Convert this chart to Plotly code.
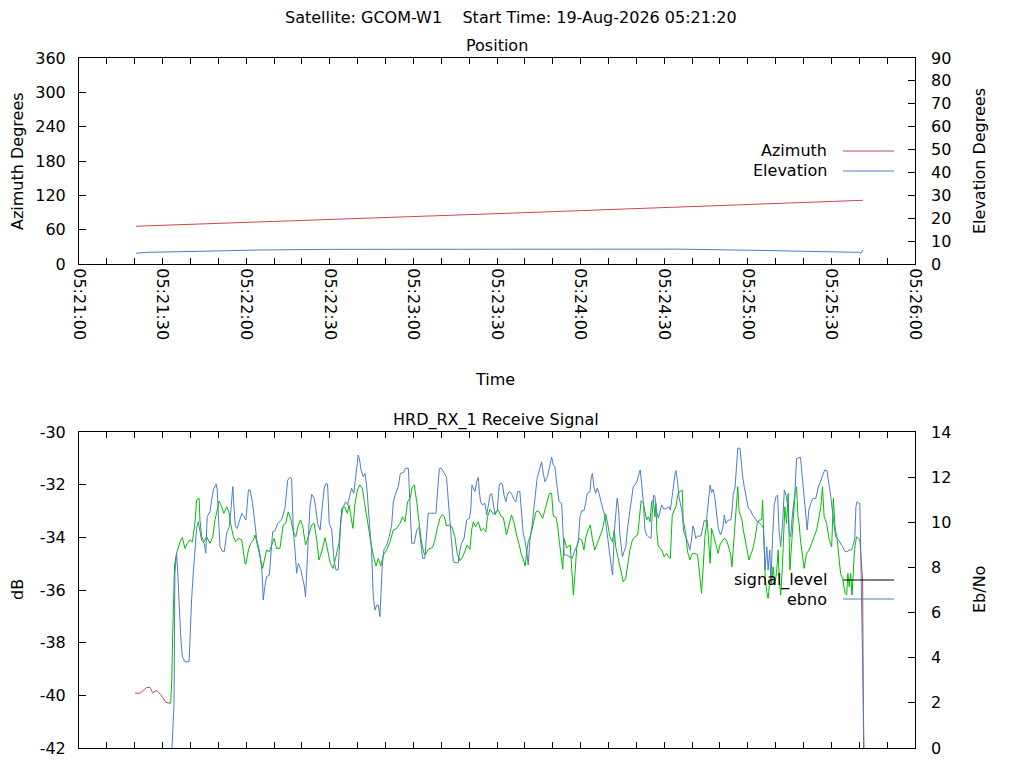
import pandas as pd
import plotly.graph_objects as go

BASE = pd.Timestamp("2026-08-19 05:21:00")

# ---------------- Position panel (seconds after 05:21:00) ----------------
az_t = [20.4, 40, 60, 80, 100, 120, 140, 160, 180, 200, 220, 240, 260, 280, 281.3]
azimuth = [66.0, 69.2, 72.4, 75.4, 78.8, 82.4, 86.0, 89.7, 93.3, 97.0, 100.6, 104.3, 107.9, 110.7, 111.3]

el_t = [20.4, 24.4, 43.4, 64.2, 90.0, 151.0, 214.6, 241.5, 261.6, 279.8, 280.6, 281.3]
elevation = [4.7, 5.1, 5.55, 6.1, 6.4, 6.55, 6.5, 6.0, 5.55, 5.1, 4.7, 6.2]

# ---------------- Receive signal panel ----------------
sig_pre_t = [20.1, 21.9, 24.3, 25.5, 26.4, 27.9, 29.3, 31.2, 32.9]
sig_pre = [-39.92, -39.92, -39.70, -39.70, -39.90, -39.82, -39.97, -40.27, -40.30]

sig_t = [32.9, 33.3, 33.6, 34.0, 34.3, 35.0, 35.6, 36.5, 37.1, 38.0, 38.9, 39.8, 40.7, 41.0, 41.6,
         42.2, 43.1, 43.4, 44.0, 44.9, 45.8, 47.0, 48.0, 48.8, 49.6, 50.3, 51.2, 52.0, 53.0, 53.8,
         54.4, 55.4, 56.3, 57.2, 58.4, 59.0, 59.6, 59.9, 60.8, 61.6, 62.6, 63.2, 64.0, 64.7, 65.9,
         66.6, 67.3, 68.3, 70.0, 70.9, 72.1, 73.3, 74.2, 75.1, 76.1, 76.9, 77.8, 78.7, 79.5, 80.3,
         81.3, 82.3, 83.5, 84.4, 85.3, 86.1, 87.1, 88.3, 89.2, 90.2, 91.2, 92.4, 93.3, 94.3, 95.4,
         96.3, 96.9, 97.8, 98.3, 99.0, 99.9, 100.8, 101.7, 102.4, 103.2, 104.2, 105.0, 106.0, 106.6,
         107.4, 108.3, 109.2, 110.4, 111.6, 112.8, 114.0, 115.2, 116.1, 117.0, 117.9, 118.8, 119.6,
         120.3, 121.2, 122.0, 122.7, 123.5, 124.0, 124.5, 125.3, 126.9, 127.7, 128.6, 129.5, 130.4,
         131.1, 131.9, 132.9, 133.8, 134.9, 135.7, 136.7, 137.7, 138.5, 139.3, 140.3, 140.9, 141.5,
         142.3, 143.3, 144.2, 145.1, 146.0, 146.6, 147.5, 148.7, 149.6, 150.5, 151.4, 152.2, 152.8,
         153.4, 154.3, 155.2, 156.2, 157.0, 158.0, 158.8, 159.7, 160.1, 160.6, 161.2, 162.1, 163.0,
         164.0, 164.8, 165.7, 166.4, 167.2, 168.1, 168.8, 169.6, 170.2, 171.2, 171.8, 172.3, 173.1,
         173.6, 174.1, 175.0, 175.8, 176.3, 176.8, 177.4, 178.0, 178.6, 179.4, 180.4, 181.2, 181.9,
         182.7, 183.5, 184.2, 185.1, 186.0, 186.9, 187.8, 188.5, 189.0, 189.7, 190.5, 191.4, 192.1,
         192.6, 193.3, 194.1, 194.7, 195.3, 196.2, 196.9, 197.7, 198.6, 199.5, 200.5, 201.0, 201.7,
         202.5, 203.1, 203.7, 204.3, 204.9, 205.5, 206.1, 206.7, 207.0, 207.4, 207.9, 209.1, 210.0,
         210.9, 211.5, 212.2, 212.4, 212.9, 213.6, 214.2, 215.0, 215.7, 216.5, 216.8, 217.7, 218.4,
         219.2, 220.1, 221.0, 222.0, 222.6, 223.1, 223.4, 224.0, 224.6, 225.4, 226.0, 226.5, 227.0,
         227.6, 228.2, 228.8, 229.4, 230.0, 231.0, 231.8, 232.6, 233.4, 233.9, 234.3, 234.8, 235.4,
         236.0, 236.4, 236.9, 237.8, 238.4, 239.0, 239.6, 240.4, 241.0, 241.7, 242.6, 243.4, 244.1,
         245.0, 245.3, 245.8, 246.3, 246.8, 247.3, 247.9, 248.5, 249.1, 249.7, 250.3, 250.9, 251.3,
         251.8, 252.4, 253.0, 253.3, 253.9, 254.5, 255.1, 255.7, 256.3, 257.0, 257.5, 258.0, 258.4,
         258.9, 259.6, 260.2, 261.1, 262.0, 262.9, 263.7, 264.7, 265.6, 266.2, 266.8, 267.4, 268.3,
         269.1, 270.1, 270.7, 271.3, 272.1, 272.8, 273.3, 274.0, 274.9, 275.5, 275.9, 276.4, 276.9,
         277.4, 277.8, 278.3, 279.0, 279.8, 280.2]
sig_level = [-40.30, -39.42, -37.77, -36.07, -35.05, -34.61, -34.42, -34.10, -34.01, -34.42, -34.23, -34.10, -34.17, -33.98, -33.47,
             -32.58, -32.52, -33.34, -33.98, -34.17, -33.98, -34.23, -33.98, -33.34, -32.96, -32.62, -32.84, -33.09, -32.84, -33.03,
             -33.47, -33.98, -34.17, -34.04, -34.10, -34.61, -35.01, -35.01, -34.48, -34.23, -34.10, -33.91, -34.23, -34.61, -35.18,
             -34.86, -34.48, -34.55, -34.04, -34.42, -34.42, -33.53, -33.47, -33.03, -33.34, -33.79, -33.98, -33.53, -33.34, -33.60,
             -34.29, -33.98, -33.53, -33.47, -34.10, -34.86, -34.55, -34.01, -34.42, -34.99, -35.18, -34.67, -34.23, -32.90, -32.84,
             -33.09, -32.77, -33.34, -33.66, -32.77, -32.20, -32.01, -32.14, -32.65, -33.22, -33.85, -34.36, -34.86, -35.09,
             -34.80, -35.09, -34.67, -34.48, -34.17, -33.72, -33.66, -33.47, -33.22, -33.41, -32.65, -32.52, -32.08,
             -32.01, -32.65, -33.34, -34.04, -34.48, -34.67, -34.61, -34.46, -34.38, -34.10, -33.66, -33.28, -33.13,
             -33.22, -33.57, -33.53, -33.60, -33.98, -34.61, -34.89, -34.74, -34.48, -34.29, -34.46, -33.72, -33.41,
             -33.60, -33.41, -33.75, -33.66, -33.79, -33.22, -32.94, -33.11, -33.03, -32.96, -33.19, -33.24, -33.53,
             -33.91, -33.53, -33.15, -33.47, -33.91, -34.29, -34.67, -34.93, -35.09, -34.61, -34.17, -33.91, -33.47,
             -33.03, -32.99, -33.19, -33.28, -32.96, -32.58, -32.33, -32.33, -33.19, -33.24, -33.60, -34.10, -34.86,
             -35.21, -34.04, -34.40, -34.33, -34.29, -35.18, -36.19, -35.37, -34.42, -34.04, -34.10, -34.48, -33.98,
             -33.72, -33.53, -34.04, -34.48, -34.23, -33.98, -33.72, -33.34, -33.11, -33.47, -33.98, -34.17, -33.72,
             -34.36, -34.74, -35.12, -35.43, -35.69, -35.56, -34.99, -34.48, -34.10, -33.98, -33.91, -33.22, -32.61,
             -32.71, -33.03, -33.34, -33.22, -33.41, -32.65, -32.58, -33.22, -32.71, -33.85, -34.36, -34.48, -34.74,
             -34.61, -34.74, -34.80, -34.10, -33.15, -32.96, -32.84, -32.33, -32.27, -32.20, -33.34, -33.85, -34.55,
             -34.86, -34.61, -34.61, -34.67, -35.43, -35.87, -36.13, -35.12, -33.98, -33.34, -34.10, -34.99, -33.66,
             -33.92, -34.10, -34.42, -34.61, -34.29, -34.10, -34.04, -34.17, -34.48, -34.67, -35.12, -34.36, -33.60,
             -32.84, -32.08, -33.03, -33.28, -33.72, -34.10, -34.48, -34.86, -34.67, -34.48, -34.04, -33.47, -33.34,
             -33.34, -32.58, -34.36, -35.62, -36.07, -36.32, -35.62, -35.81, -35.12, -35.75, -35.37, -34.48, -35.62,
             -36.19, -35.12, -33.47, -32.84, -33.47, -32.33, -35.24, -34.10, -33.34, -32.33, -32.08, -33.22, -33.47,
             -34.10, -34.74, -35.18, -34.61, -34.48, -34.23, -33.98, -33.72, -33.22, -32.84, -32.08, -33.22, -33.47,
             -34.04, -34.36, -32.52, -33.60, -34.10, -34.86, -35.37, -35.56, -36.13, -36.19, -35.37, -35.87, -35.37,
             -36.19, -35.37, -34.48, -33.98, -34.04, -34.10]

sig_post_t = [280.2, 280.8, 281.2, 281.6]
sig_post = [-34.10, -34.86, -35.62, -43.0]

ebno_t = [33.0, 33.6, 34.1, 34.4, 35.0, 35.4, 35.9, 36.5, 37.1, 38.0, 39.5, 39.8, 40.4, 41.0, 41.6,
          42.2, 42.8, 43.4, 44.0, 44.9, 45.5, 46.0, 47.0, 47.6, 48.2, 49.2, 49.6, 50.1, 50.6, 51.6,
          52.1, 53.0, 53.9, 54.5, 55.2, 55.6, 56.1, 56.8, 57.5, 58.4, 59.2, 59.9, 60.8, 61.4, 62.3,
          63.0, 63.8, 64.7, 65.6, 65.9, 66.1, 66.7, 67.3, 68.3, 68.8, 69.5, 70.3, 71.3, 72.7, 73.9,
          74.9, 75.7, 76.3, 76.9, 77.5, 78.1, 78.7, 79.5, 80.1, 80.8, 81.3, 81.8, 82.3, 82.9, 83.5,
          84.4, 84.9, 85.6, 86.5, 87.3, 88.0, 88.5, 89.2, 89.8, 90.7, 91.5, 92.2, 93.0, 93.4, 94.0,
          94.8, 95.7, 96.4, 97.3, 97.8, 98.6, 99.3, 99.7, 100.2, 100.7, 101.2, 102.0, 102.6, 103.2,
          103.8, 104.4, 105.0, 105.6, 106.2, 106.8, 107.4, 108.0, 108.4, 108.8, 109.4, 110.4, 111.3,
          112.2, 112.8, 113.6, 114.6, 115.3, 116.4, 117.2, 118.2, 118.8, 119.4, 120.3, 121.2, 122.0,
          122.4, 123.0, 123.3, 124.1, 124.8, 125.3, 128.1, 128.6, 129.3, 130.1, 131.0, 131.9, 132.5,
          133.1, 133.7, 134.3, 134.9, 136.1, 136.7, 137.3, 138.2, 139.1, 140.1, 140.6, 141.0, 141.5,
          142.1, 142.7, 143.3, 143.6, 144.1, 144.8, 145.7, 146.3, 146.9, 147.5, 148.1, 148.7, 149.3,
          150.1, 150.8, 151.4, 152.0, 152.5, 153.2, 153.7, 154.4, 155.2, 156.1, 156.8, 157.4, 158.2,
          158.8, 159.4, 160.0, 160.6, 161.2, 161.8, 162.6, 163.6, 164.4, 165.2, 166.0, 166.6, 167.2,
          168.1, 168.8, 169.6, 170.2, 170.8, 171.4, 172.3, 173.2, 173.8, 174.1, 175.0, 176.1, 177.0,
          178.0, 178.6, 179.2, 179.8, 180.4, 181.2, 181.8, 182.4, 183.4, 183.7, 184.2, 184.8, 185.4,
          186.0, 186.6, 187.3, 188.1, 188.7, 189.3, 189.9, 190.5, 191.1, 191.5, 192.1, 192.6, 193.1,
          193.6, 194.1, 194.6, 195.0, 195.6, 196.2, 196.9, 197.7, 198.3, 198.9, 199.5, 200.2, 201.0,
          201.4, 201.9, 202.5, 203.1, 203.7, 204.3, 205.3, 205.7, 206.2, 206.7, 207.3, 207.9, 208.5,
          209.1, 209.9, 210.9, 211.7, 212.2, 212.7, 213.3, 213.9, 214.2, 214.8, 215.3, 216.0, 216.5,
          217.0, 217.7, 218.4, 219.2, 219.8, 220.3, 220.8, 221.3, 222.0, 223.2, 223.7, 224.4, 225.1,
          225.6, 226.0, 226.5, 227.0, 227.6, 228.2, 228.8, 229.4, 230.2, 231.0, 231.6, 232.1, 233.0,
          233.9, 234.3, 234.8, 235.4, 236.0, 236.4, 237.2, 237.6, 238.1, 238.7, 239.4, 240.2, 241.0,
          241.7, 242.6, 243.4, 244.4, 245.0, 245.6, 246.2, 246.8, 247.3, 247.9, 248.3, 248.9, 249.5,
          250.1, 250.7, 251.2, 251.8, 252.5, 253.1, 253.7, 254.3, 254.9, 255.4, 256.1, 256.9, 257.5,
          258.9, 259.5, 260.1, 260.7, 261.3, 261.9, 262.6, 263.4, 264.4, 265.2, 266.1, 267.0, 267.6,
          268.4, 269.1, 269.7, 270.4, 270.9, 271.5, 272.2, 273.0, 274.0, 274.9, 275.7, 276.4, 277.2,
          277.8, 278.4, 278.8, 279.2, 279.8, 280.2, 280.5, 280.9, 281.3, 281.7]
ebno = [-1.0, 0.65, 1.98, 7.74, 8.63, 7.89, 6.41, 4.93, 4.04, 3.82, 3.82, 5.08, 6.56, 7.74, 8.77,
        9.73, 10.03, 9.66, 9.21, 9.07, 8.63, 10.25, 10.47, 10.99, 11.43, 11.70, 11.43, 10.10, 8.92, 8.70,
        8.70, 9.51, 9.80, 10.54, 11.58, 10.69, 9.80, 9.73, 10.03, 10.40, 10.25, 10.10, 11.43, 11.43, 10.84,
        9.95, 9.21, 8.77, 7.89, 7.30, 6.56, 7.15, 7.59, 7.66, 8.63, 9.58, 9.62, 9.95, 10.10, 10.62,
        11.87, 11.99, 11.95, 9.66, 8.77, 7.74, 8.18, 7.96, 7.59, 7.22, 6.70, 8.33, 9.36, 10.69, 11.24,
        11.06, 10.69, 9.95, 9.66, 10.69, 11.51, 11.70, 11.70, 9.95, 9.66, 8.33, 7.89, 7.89, 8.99, 10.10,
        10.69, 10.91, 10.77, 11.21, 11.51, 11.28, 11.95, 12.46, 12.98, 12.76, 12.32, 12.02, 12.17, 11.65,
        10.69, 9.58, 8.70, 6.70, 6.11, 6.33, 6.33, 5.82, 7.15, 8.03, 8.77, 8.99, 9.36,
        9.88, 10.91, 11.28, 11.58, 12.17, 12.20, 12.39, 12.39, 10.69, 9.07, 9.07, 9.66, 9.78,
        9.40, 8.77, 8.40, 8.40, 9.58, 10.40, 10.40, 11.43, 12.39, 12.39, 12.17, 11.99, 10.99,
        10.03, 9.29, 8.25, 8.21, 8.21, 8.77, 9.07, 9.29, 10.10, 10.18, 10.54, 11.65, 11.51,
        11.36, 11.80, 11.99, 11.43, 10.91, 10.77, 10.84, 10.32, 10.84, 11.21, 11.28, 10.69, 10.32,
        10.54, 11.65, 11.75, 11.65, 11.21, 10.91, 11.21, 11.36, 11.28, 10.99, 10.91, 11.36, 11.36,
        10.47, 9.51, 9.21, 8.77, 8.11, 9.21, 9.88, 10.91, 11.95, 12.32, 12.68, 12.17, 11.80,
        12.02, 12.46, 12.88, 12.54, 12.46, 11.73, 10.91, 10.84, 9.36, 8.55, 8.55, 8.45, 8.40,
        8.77, 8.92, 9.21, 10.25, 10.51, 10.51, 10.84, 11.28, 11.36, 11.87, 12.17, 11.58, 11.28,
        11.51, 11.28, 10.91, 10.54, 10.32, 9.80, 9.07, 8.55, 7.96, 7.66, 9.58, 10.18, 11.06,
        10.62, 9.44, 8.92, 8.47, 8.70, 8.92, 9.80, 10.54, 11.21, 11.58, 11.65, 11.80, 12.17,
        12.32, 11.73, 10.91, 9.66, 9.44, 9.36, 9.29, 10.40, 11.21, 11.13, 10.47, 10.18, 10.54,
        10.77, 10.58, 10.62, 10.69, 10.54, 10.99, 11.73, 12.17, 12.29, 11.80, 11.13, 10.77, 10.40,
        9.58, 9.36, 9.14, 8.77, 9.21, 9.84, 9.66, 9.29, 9.39, 9.39, 9.69, 10.10, 10.03,
        10.69, 11.06, 11.65, 11.32, 11.46, 11.06, 10.25, 9.73, 9.44, 9.73, 10.32, 9.95, 10.10,
        10.10, 10.47, 11.28, 11.51, 12.61, 13.28, 13.28, 12.68, 12.09, 11.58, 11.06, 10.62, 10.54,
        10.32, 10.18, 10.03, 9.95, 9.88, 9.73, 7.89, 8.92, 7.89, 8.77, 7.30, 9.36, 10.77,
        11.13, 11.21, 9.66, 8.92, 9.95, 11.43, 11.21, 10.77, 9.51, 9.36, 10.47, 11.28, 12.83,
        12.88, 12.09, 11.21, 10.40, 9.66, 10.54, 10.84, 11.06, 11.06, 11.51, 11.80, 12.09, 12.32,
        12.29, 11.73, 11.21, 10.47, 9.95, 9.36, 9.29, 9.14, 8.92, 8.70, 8.70, 8.77, 8.77,
        8.99, 9.29, 10.69, 10.91, 10.84, 10.84, 8.92, 5.37, 1.76, 0.0]

# tick values / labels (gnuplot prints a plain hyphen for negatives)
az_ticks = [0, 60, 120, 180, 240, 300, 360]
el_ticks = [0, 10, 20, 30, 40, 50, 60, 70, 80, 90]
db_ticks = [-42, -40, -38, -36, -34, -32, -30]
db_labels = ["-42", "-40", "-38", "-36", "-34", "-32", "-30"]
ebno_ticks = [0, 2, 4, 6, 8, 10, 12, 14]
X_TICKS_FMT = "%H:%M:%S"


def ts(secs):
    return BASE + pd.to_timedelta(secs, unit="s")


RED = "#c8484a"
BLUE = "#4a80c4"
GREEN = "#00c000"
FONT = "DejaVu Sans"
OFF = 8                      # default page margin of the browser body
W, H = 1024 - 2 * OFF, 768 - 2 * OFF


def px(x):
    return (x - OFF) / W


def py(y):
    return 1 - (y - OFF) / H


fig = go.Figure()
fig.add_trace(go.Scatter(x=ts(az_t), y=azimuth, mode="lines", line=dict(color=RED, width=1),
                         xaxis="x", yaxis="y", name="Azimuth"))
fig.add_trace(go.Scatter(x=ts(el_t), y=elevation, mode="lines", line=dict(color=BLUE, width=1),
                         xaxis="x", yaxis="y2", name="Elevation"))
fig.add_trace(go.Scatter(x=ts(sig_pre_t), y=sig_pre, mode="lines", line=dict(color=RED, width=1),
                         xaxis="x2", yaxis="y3", name="signal_level"))
fig.add_trace(go.Scatter(x=ts(sig_t), y=sig_level, mode="lines", line=dict(color=GREEN, width=1),
                         xaxis="x2", yaxis="y3", name="signal_level"))
fig.add_trace(go.Scatter(x=ts(sig_post_t), y=sig_post, mode="lines", line=dict(color=RED, width=1),
                         xaxis="x2", yaxis="y3", name="signal_level"))
fig.add_trace(go.Scatter(x=ts(ebno_t), y=ebno, mode="lines", line=dict(color=BLUE, width=1),
                         xaxis="x2", yaxis="y4", name="ebno"))

xdom = [px(79), px(915)]
top_dom = [py(264), py(58)]
bot_dom = [py(748), py(432)]
xrange_ = [BASE, BASE + pd.Timedelta(seconds=300)]
tfont = dict(family=FONT, size=16, color="black")

common_x = dict(type="date", range=xrange_, dtick=30000, tick0=BASE, tickformat=X_TICKS_FMT,
                ticks="inside", ticklen=6, tickcolor="black", showline=True, linecolor="black",
                linewidth=1, mirror="allticks", showgrid=False, zeroline=False, automargin=False,
                minor=dict(ticks="inside", ticklen=3, dtick=10000, tickcolor="black", showgrid=False),
                tickfont=tfont)
left_y = dict(ticks="inside", ticklen=7, tickcolor="black", showline=True, linecolor="black",
              mirror=True, showgrid=False, zeroline=False, ticklabelstandoff=9, automargin=False,
              tickfont=tfont)
right_y = dict(side="right", ticks="inside", ticklen=7, tickcolor="black", showline=False,
               showgrid=False, zeroline=False, ticklabelstandoff=15, automargin=False, tickfont=tfont)

fig.update_layout(
    width=W, height=H, margin=dict(l=0, r=0, t=0, b=0, autoexpand=False),
    paper_bgcolor="white", plot_bgcolor="white", showlegend=False,
    font=dict(family=FONT, size=16, color="black"),
    xaxis=dict(domain=xdom, anchor="y", tickangle=90, **common_x),
    yaxis=dict(domain=top_dom, range=[0, 360], tickvals=az_ticks, **left_y),
    yaxis2=dict(overlaying="y", anchor="x", range=[0, 90], tickvals=el_ticks, **right_y),
    xaxis2=dict(domain=xdom, anchor="y3", showticklabels=False, **common_x),
    yaxis3=dict(domain=bot_dom, range=[-42, -30], tickvals=db_ticks, ticktext=db_labels, **left_y),
    yaxis4=dict(overlaying="y3", anchor="x2", range=[0, 14], tickvals=ebno_ticks, **right_y),
)

ann = [
    ("Satellite: GCOM-W1&nbsp;&nbsp;&nbsp;&nbsp;Start Time: 19-Aug-2026 05:21:20", 511, 17, "center", 0),
    ("Position", 497, 46, "center", 0),
    ("HRD_RX_1 Receive Signal", 496, 420, "center", 0),
    ("Time", 495, 379, "center", 0),
    ("Azimuth Degrees", 17, 161, "center", -90),
    ("Elevation Degrees", 979, 161, "center", -90),
    ("dB", 17, 590, "center", -90),
    ("Eb/No", 979, 590, "center", -90),
    ("Azimuth", 829, 150, "right", 0),
    ("Elevation", 829, 170, "right", 0),
    ("signal_level", 829, 580, "right", 0),
    ("ebno", 829, 599, "right", 0),
]
for text, x, y, xa, ang in ann:
    fig.add_annotation(text=text, x=px(x), y=py(y), xref="paper", yref="paper",
                       xanchor=xa, yanchor="middle", textangle=ang, showarrow=False, font=tfont)

for y, color in [(151, RED), (171, BLUE), (580, "black"), (599, BLUE)]:
    fig.add_shape(type="line", xref="paper", yref="paper", x0=px(843), x1=px(894),
                  y0=py(y), y1=py(y), line=dict(color=color, width=1))

fig.write_html("out.html", config={"displayModeBar": False})
